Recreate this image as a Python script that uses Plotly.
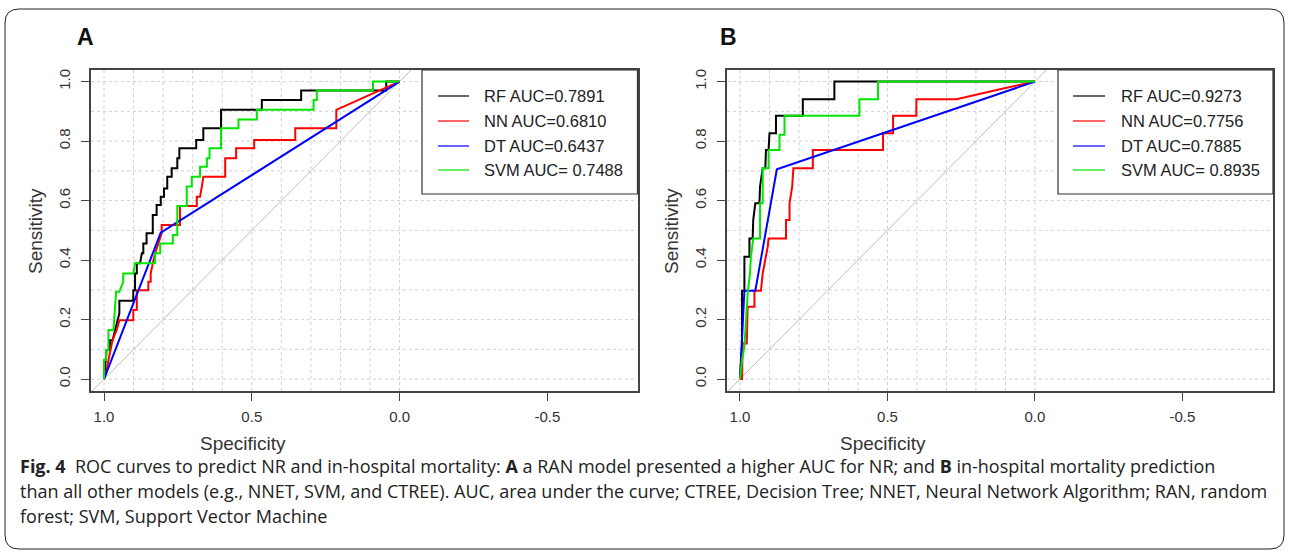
import numpy as np
import plotly.graph_objects as go

# ---------------- data ----------------
models = ["RF", "NN", "DT", "SVM"]
colors = ["#000000", "#FF0000", "#0000FF", "#00E600"]
legend_a = ["RF AUC=0.7891", "NN AUC=0.6810", "DT AUC=0.6437", "SVM AUC= 0.7488"]
legend_b = ["RF AUC=0.9273", "NN AUC=0.7756", "DT AUC=0.7885", "SVM AUC= 0.8935"]

x_ticks = [1.0, 0.5, 0.0, -0.5]
x_ticktext = ["1.0", "0.5", "0.0", "-0.5"]
y_ticks = [0.0, 0.2, 0.4, 0.6, 0.8, 1.0]
y_ticktext = ["0.0", "0.2", "0.4", "0.6", "0.8", "1.0"]

# Panel A (NR)
rf_a_spec = [1.000, 0.993, 0.991, 0.980, 0.980, 0.971, 0.963, 0.948, 0.948, 0.901, 0.901, 0.895, 0.895,
             0.889, 0.889, 0.878, 0.872, 0.867, 0.867, 0.856, 0.856, 0.835, 0.835, 0.822, 0.822, 0.808,
             0.808, 0.797, 0.797, 0.786, 0.786, 0.771, 0.771, 0.752, 0.752, 0.745, 0.745, 0.688, 0.688,
             0.664, 0.664, 0.604, 0.604, 0.466, 0.466, 0.333, 0.333, 0.045, 0.045, 0.000]
rf_a_sens = [0.000, 0.064, 0.098, 0.098, 0.131, 0.131, 0.165, 0.221, 0.263, 0.263, 0.299, 0.299, 0.355,
             0.355, 0.389, 0.389, 0.423, 0.423, 0.456, 0.456, 0.490, 0.490, 0.552, 0.552, 0.585, 0.585,
             0.613, 0.613, 0.641, 0.641, 0.680, 0.680, 0.709, 0.709, 0.742, 0.742, 0.776, 0.776, 0.804,
             0.804, 0.843, 0.843, 0.905, 0.905, 0.938, 0.938, 0.970, 0.970, 1.000, 1.000]

nn_a_spec = [1.000, 0.991, 0.985, 0.977, 0.971, 0.957, 0.948, 0.901, 0.901, 0.889, 0.889, 0.850, 0.850,
             0.842, 0.842, 0.835, 0.827, 0.816, 0.805, 0.805, 0.743, 0.743, 0.686, 0.686, 0.675, 0.669,
             0.664, 0.590, 0.590, 0.553, 0.553, 0.492, 0.492, 0.353, 0.353, 0.214, 0.214, 0.088, 0.000]
nn_a_sens = [0.000, 0.030, 0.064, 0.098, 0.131, 0.165, 0.198, 0.198, 0.232, 0.232, 0.299, 0.299, 0.327,
             0.327, 0.355, 0.389, 0.423, 0.456, 0.490, 0.518, 0.518, 0.582, 0.582, 0.613, 0.613, 0.647,
             0.680, 0.680, 0.742, 0.742, 0.776, 0.776, 0.804, 0.804, 0.843, 0.843, 0.905, 0.961, 1.000]

dt_a_spec = [1.000, 0.808, 0.000]
dt_a_sens = [0.000, 0.492, 1.000]

svm_a_spec = [1.000, 1.000, 0.993, 0.993, 0.985, 0.985, 0.968, 0.963, 0.959, 0.948, 0.935, 0.935, 0.901,
              0.895, 0.827, 0.827, 0.810, 0.810, 0.767, 0.767, 0.752, 0.752, 0.720, 0.720, 0.703, 0.703,
              0.675, 0.675, 0.652, 0.652, 0.643, 0.643, 0.604, 0.604, 0.545, 0.545, 0.483, 0.483, 0.291,
              0.291, 0.280, 0.280, 0.090, 0.090, 0.000]
svm_a_sens = [0.000, 0.064, 0.064, 0.098, 0.098, 0.165, 0.165, 0.232, 0.294, 0.294, 0.327, 0.355, 0.355,
              0.389, 0.389, 0.423, 0.423, 0.456, 0.456, 0.484, 0.484, 0.582, 0.582, 0.647, 0.647, 0.680,
              0.680, 0.714, 0.714, 0.742, 0.742, 0.776, 0.776, 0.843, 0.843, 0.873, 0.873, 0.905, 0.905,
              0.938, 0.938, 0.970, 0.970, 1.000, 1.000]

# Panel B (in-hospital mortality)
rf_b_spec = [1.000, 0.997, 0.993, 0.993, 0.985, 0.985, 0.968, 0.968, 0.957, 0.955, 0.948, 0.934, 0.932,
             0.923, 0.914, 0.912, 0.903, 0.900, 0.878, 0.878, 0.787, 0.787, 0.680, 0.680, 0.000]
rf_b_sens = [0.000, 0.064, 0.109, 0.297, 0.297, 0.411, 0.411, 0.473, 0.473, 0.535, 0.591, 0.591, 0.647,
             0.709, 0.709, 0.770, 0.770, 0.826, 0.826, 0.885, 0.885, 0.941, 0.941, 1.000, 1.000]

nn_b_spec = [1.000, 0.993, 0.991, 0.977, 0.974, 0.951, 0.951, 0.929, 0.923, 0.914, 0.906, 0.903, 0.844,
             0.844, 0.832, 0.832, 0.823, 0.819, 0.753, 0.753, 0.515, 0.515, 0.481, 0.481, 0.402, 0.402,
             0.266, 0.130, 0.000]
nn_b_sens = [0.000, 0.000, 0.120, 0.120, 0.243, 0.243, 0.297, 0.297, 0.355, 0.400, 0.445, 0.473, 0.473,
             0.535, 0.535, 0.591, 0.647, 0.709, 0.709, 0.770, 0.770, 0.826, 0.826, 0.885, 0.885, 0.941,
             0.941, 0.972, 1.000]

dt_b_spec = [1.000, 0.985, 0.948, 0.875, 0.000]
dt_b_sens = [0.000, 0.297, 0.297, 0.705, 1.000]

svm_b_spec = [1.000, 0.993, 0.985, 0.980, 0.974, 0.966, 0.963, 0.955, 0.932, 0.932, 0.923, 0.923, 0.903,
              0.903, 0.866, 0.866, 0.849, 0.849, 0.595, 0.595, 0.532, 0.532, 0.000]
svm_b_sens = [0.000, 0.064, 0.109, 0.187, 0.288, 0.355, 0.411, 0.473, 0.473, 0.591, 0.591, 0.709, 0.709,
              0.770, 0.770, 0.821, 0.821, 0.885, 0.885, 0.941, 0.941, 1.000, 1.000]

caption_lines = [
    "<b>Fig. 4</b>  ROC curves to predict NR and in-hospital mortality: <b>A</b> a RAN model presented a higher AUC for NR; and <b>B</b> in-hospital mortality prediction",
    "than all other models (e.g., NNET, SVM, and CTREE). AUC, area under the curve; CTREE, Decision Tree; NNET, Neural Network Algorithm; RAN, random",
    "forest; SVM, Support Vector Machine",
]

# ---------------- layout helpers ----------------
W, H = 1290, 553
def px(xp):
    return xp / W
def py(yp):
    return 1 - yp / H

panels = [
    dict(name="A", xa="x", ya="y", left=91, right=637.5, xrange=[1.044, -0.805],
         curves=[(rf_a_spec, rf_a_sens), (nn_a_spec, nn_a_sens), (dt_a_spec, dt_a_sens), (svm_a_spec, svm_a_sens)],
         legend=legend_a, label_x=85, sens_x=35, spec_x=243,
         leg_box=(422, 637.5), leg_line=(438, 469), leg_text=482),
    dict(name="B", xa="x2", ya="y2", left=727, right=1273, xrange=[1.044, -0.807],
         curves=[(rf_b_spec, rf_b_sens), (nn_b_spec, nn_b_sens), (dt_b_spec, dt_b_sens), (svm_b_spec, svm_b_sens)],
         legend=legend_b, label_x=728, sens_x=671, spec_x=883,
         leg_box=(1058, 1273), leg_line=(1073, 1105), leg_text=1119),
]
TOP, BOT = 70, 391
yrange = [-0.040, 1.039]
leg_rows = [96, 121, 146, 170]

fig = go.Figure()
shapes = []
annotations = []
axis_font = dict(family="Liberation Sans, Arial, sans-serif", size=15, color="#333333")
grid_line = dict(color="#D0D0D0", width=1, dash="dot")

for i, p in enumerate(panels):
    xa, ya = p["xa"], p["ya"]
    xr = p["xrange"]
    # chance line (clipped to plot area)
    fig.add_trace(go.Scatter(x=[xr[0], xr[1]], y=[1 - xr[0], 1 - xr[1]], mode="lines",
                             line=dict(color="#BDBDBD", width=1), xaxis=xa, yaxis=ya,
                             showlegend=False, hoverinfo="skip"))
    for (sx, sy), col, m in zip(p["curves"], colors, models):
        fig.add_trace(go.Scatter(x=sx, y=sy, mode="lines", line=dict(color=col, width=2),
                                 name=m, xaxis=xa, yaxis=ya, showlegend=False))

    # grid
    for v in np.round(np.arange(0, 1.0001, 0.1), 1):
        shapes.append(dict(type="line", xref=xa, yref=f"{ya} domain", x0=v, x1=v, y0=0, y1=1,
                           line=grid_line, layer="below"))
        shapes.append(dict(type="line", xref=f"{xa} domain", yref=ya, x0=0, x1=1, y0=v, y1=v,
                           line=grid_line, layer="below"))

    # legend box
    lb0, lb1 = p["leg_box"]
    shapes.append(dict(type="rect", xref="paper", yref="paper", x0=px(lb0), x1=px(lb1),
                       y0=py(194), y1=py(TOP), fillcolor="white",
                       line=dict(color="#333333", width=1.2), layer="above"))
    for r, col, txt in zip(leg_rows, colors, p["legend"]):
        shapes.append(dict(type="line", xref="paper", yref="paper", x0=px(p["leg_line"][0]),
                           x1=px(p["leg_line"][1]), y0=py(r), y1=py(r),
                           line=dict(color=col, width=1.2), layer="above"))
        annotations.append(dict(xref="paper", yref="paper", x=px(p["leg_text"]), y=py(r), text=txt,
                                showarrow=False, xanchor="left", yanchor="middle",
                                font=dict(family="Liberation Sans, Arial, sans-serif", size=16.5,
                                          color="#222222")))

    # panel label
    annotations.append(dict(xref="paper", yref="paper", x=px(p["label_x"]), y=py(37), text=f"<b>{p['name']}</b>",
                            showarrow=False, xanchor="center", yanchor="middle",
                            font=dict(family="Liberation Sans, Arial, sans-serif", size=23, color="#111111")))
    # axis titles
    annotations.append(dict(xref="paper", yref="paper", x=px(p["sens_x"]), y=py(231), text="Sensitivity",
                            textangle=-90, showarrow=False, xanchor="center", yanchor="middle",
                            font=dict(family="Liberation Sans, Arial, sans-serif", size=19, color="#333333")))
    annotations.append(dict(xref="paper", yref="paper", x=px(p["spec_x"]), y=py(443), text="Specificity",
                            showarrow=False, xanchor="center", yanchor="middle",
                            font=dict(family="Liberation Sans, Arial, sans-serif", size=19, color="#333333")))

    xkey = "xaxis" if i == 0 else "xaxis2"
    ykey = "yaxis" if i == 0 else "yaxis2"
    fig.update_layout(**{
        xkey: dict(domain=[px(p["left"]), px(p["right"])], range=xr, anchor=ya,
                   tickvals=x_ticks, ticktext=x_ticktext, ticks="outside", ticklen=8, tickwidth=1.2,
                   tickcolor="#444444", showgrid=False, zeroline=False, showline=True, mirror=True,
                   linecolor="#444444", linewidth=1.5, tickfont=axis_font, ticklabelstandoff=3),
        ykey: dict(domain=[py(BOT), py(TOP)], range=yrange, anchor=xa,
                   tickvals=y_ticks, ticktext=y_ticktext, ticks="outside", ticklen=8, tickwidth=1.2,
                   tickcolor="#444444", showgrid=False, zeroline=False, showline=True, mirror=True,
                   linecolor="#444444", linewidth=1.5, tickfont=axis_font, tickangle=-90,
                   ticklabelstandoff=5),
    })

# caption
for yy, line in zip([466, 491, 516], caption_lines):
    annotations.append(dict(xref="paper", yref="paper", x=px(18), y=py(yy), text=line, showarrow=False,
                            xanchor="left", yanchor="middle",
                            font=dict(family="Open Sans, sans-serif", size=18.0, color="#222222")))

# outer rounded frame
x0, x1, yt, yb = px(5), px(1284), py(9), py(549)
rx, ry = 14 / W, 14 / H
path = (f"M {x0+rx},{yt} L {x1-rx},{yt} Q {x1},{yt} {x1},{yt-ry} L {x1},{yb+ry} Q {x1},{yb} {x1-rx},{yb} "
        f"L {x0+rx},{yb} Q {x0},{yb} {x0},{yb+ry} L {x0},{yt-ry} Q {x0},{yt} {x0+rx},{yt} Z")
shapes.append(dict(type="path", xref="paper", yref="paper", path=path,
                   line=dict(color="#222222", width=1), layer="above"))

fig.update_layout(width=W, height=H, autosize=False, margin=dict(l=0, r=0, t=0, b=0),
                  paper_bgcolor="white", plot_bgcolor="white", showlegend=False,
                  shapes=shapes, annotations=annotations)

fig.write_html("out.html", config={"displayModeBar": False},
               post_script="document.body.style.margin='0';document.body.style.overflow='hidden';")
